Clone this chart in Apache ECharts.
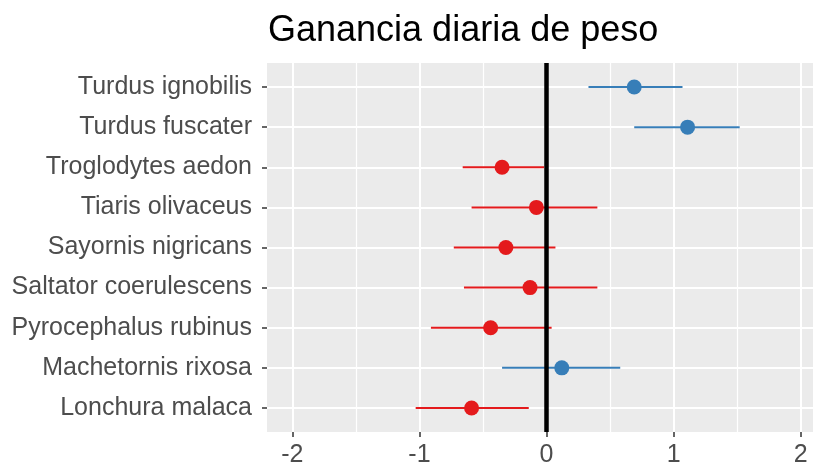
<!DOCTYPE html>
<html>
<head>
<meta charset="utf-8">
<script src="https://cdn.jsdelivr.net/npm/echarts@6/dist/echarts.min.js"></script>
<style>
  html, body { margin: 0; padding: 0; background: #fff; }
  #chart { width: 813px; height: 470px; }
</style>
</head>
<body>
<div id="chart"></div>
<script>
// species from bottom (1) to top (9), like ggplot's discrete axis
const species = [
  "Lonchura malaca",
  "Machetornis rixosa",
  "Pyrocephalus rubinus",
  "Saltator coerulescens",
  "Sayornis nigricans",
  "Tiaris olivaceus",
  "Troglodytes aedon",
  "Turdus fuscater",
  "Turdus ignobilis"
];
const estimate = [-0.59, 0.12, -0.44, -0.13, -0.32, -0.08, -0.35, 1.11, 0.69];
const lower = [-1.03, -0.35, -0.91, -0.65, -0.73, -0.59, -0.66, 0.69, 0.33];
const upper = [-0.14, 0.58, 0.04, 0.40, 0.07, 0.40, -0.02, 1.52, 1.07];
const xTicks = [-2, -1, 0, 1, 2];
const xMinorTicks = [-1.5, -0.5, 0.5, 1.5];

const RED = "#E41A1C";
const BLUE = "#377EB8";
const colorOf = v => (v < 0 ? RED : BLUE);
const rows = species.map((s, i) => i + 1);
const FONT = "Liberation Sans, Arial, sans-serif";

const chart = echarts.init(document.getElementById("chart"));

chart.setOption({
  animation: false,
  title: {
    text: "Ganancia diaria de peso",
    left: 263,
    top: 8,
    textStyle: {
      fontFamily: FONT,
      fontSize: 36,
      fontWeight: "normal",
      color: "#000"
    }
  },
  grid: {
    left: 267,
    right: 0,
    top: 63,
    bottom: 38,
    show: true,
    backgroundColor: "#EBEBEB",
    borderWidth: 0
  },
  xAxis: [
    {
      type: "value",
      min: -2.2,
      max: 2.097,
      axisLine: { show: false, onZero: false },
      axisTick: {
        customValues: xTicks,
        length: 5,
        lineStyle: { color: "#333333", width: 1.5 }
      },
      axisLabel: {
        customValues: xTicks,
        margin: 11,
        color: "#4D4D4D",
        fontSize: 25,
        fontFamily: FONT
      },
      splitLine: { lineStyle: { color: "#FFFFFF", width: 2 } }
    },
    {
      type: "value",
      min: -2.2,
      max: 2.097,
      position: "bottom",
      axisLine: { show: false, onZero: false },
      axisTick: { show: false, customValues: xMinorTicks },
      axisLabel: { show: false, customValues: xMinorTicks },
      splitLine: { lineStyle: { color: "#FFFFFF", width: 1.2 } }
    }
  ],
  yAxis: {
    type: "value",
    min: 0.4,
    max: 9.6,
    axisLine: { show: false, onZero: false },
    axisTick: {
      customValues: rows,
      length: 5,
      lineStyle: { color: "#333333", width: 1.5 }
    },
    axisLabel: {
      customValues: rows,
      margin: 15,
      color: "#4D4D4D",
      fontSize: 25,
      fontFamily: FONT,
      formatter: v => species[Math.round(v) - 1]
    },
    splitLine: { lineStyle: { color: "#FFFFFF", width: 2 } }
  },
  series: [
    {
      type: "custom",
      xAxisIndex: 0,
      encode: { x: [0, 1], y: 2 },
      data: species.map((s, i) => [lower[i], upper[i], i + 1, estimate[i]]),
      renderItem: (params, api) => {
        const a = api.coord([api.value(0), api.value(2)]);
        const b = api.coord([api.value(1), api.value(2)]);
        return {
          type: "line",
          shape: { x1: a[0], y1: a[1], x2: b[0], y2: b[1] },
          style: { stroke: colorOf(api.value(3)), lineWidth: 2 }
        };
      },
      z: 2
    },
    {
      type: "scatter",
      xAxisIndex: 0,
      symbol: "circle",
      symbolSize: 15,
      data: species.map((s, i) => ({
        value: [estimate[i], i + 1],
        itemStyle: { color: colorOf(estimate[i]), opacity: 1 }
      })),
      z: 3,
      markLine: {
        silent: true,
        symbol: ["none", "none"],
        label: { show: false },
        lineStyle: { color: "#000", width: 4.5, type: "solid", opacity: 1 },
        data: [{ xAxis: 0 }],
        z: 4
      }
    }
  ]
});
</script>
</body>
</html>
